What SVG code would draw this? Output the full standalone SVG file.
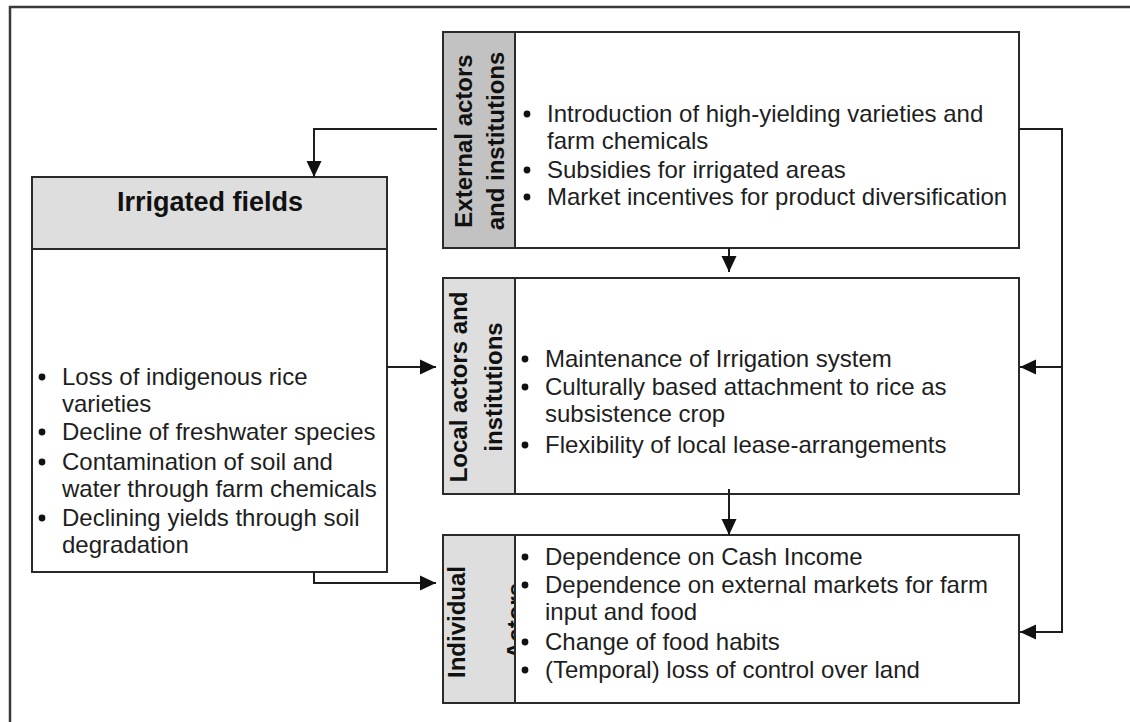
<svg xmlns="http://www.w3.org/2000/svg" width="1130" height="722" viewBox="0 0 1130 722">
<style>
.box{fill:#ffffff;stroke:#2a2a2a;stroke-width:2}
.hd1{fill:#c2c2c2;stroke:#2a2a2a;stroke-width:2}
.hd2{fill:#dedede;stroke:#2a2a2a;stroke-width:2}
.t{font-family:"Liberation Sans",Arial,sans-serif;font-size:24px;fill:#1e1e1e}
.h{font-family:"Liberation Sans",Arial,sans-serif;font-size:24px;font-weight:bold;fill:#111;text-anchor:middle}
.b{fill:#111}
.c{fill:none;stroke:#1e1e1e;stroke-width:2}
</style>
<defs>
<marker id="ah" markerUnits="userSpaceOnUse" markerWidth="17" markerHeight="17" refX="16" refY="8.5" orient="auto">
<path d="M0,1 L16,8.5 L0,16 z" fill="#111"/>
</marker>
</defs>
<rect width="1130" height="722" fill="#ffffff"/>
<path d="M10,722 V7 H1130" fill="none" stroke="#3a3a3a" stroke-width="2.5"/>

<g id="irrigated">
<rect class="box" x="32" y="177" width="355" height="395"/>
<rect class="hd2" x="32" y="177" width="355" height="72"/>
<text x="210" y="211" font-family="Liberation Sans, Arial, sans-serif" font-size="27" font-weight="bold" fill="#111" text-anchor="middle">Irrigated fields</text>
<circle class="b" cx="42" cy="377" r="3.4"/>
<text class="t" x="62" y="385">Loss of indigenous rice</text>
<text class="t" x="62" y="412">varieties</text>
<circle class="b" cx="42" cy="432" r="3.4"/>
<text class="t" x="62" y="440">Decline of freshwater species</text>
<circle class="b" cx="42" cy="462" r="3.4"/>
<text class="t" x="62" y="470">Contamination of soil and</text>
<text class="t" x="62" y="497">water through farm chemicals</text>
<circle class="b" cx="42" cy="518" r="3.4"/>
<text class="t" x="62" y="526">Declining yields through soil</text>
<text class="t" x="62" y="553">degradation</text>
</g>

<g id="external">
<rect class="hd1" x="443" y="32" width="72" height="216"/>
<text class="h" transform="translate(472,141) rotate(-90)">External actors</text>
<text class="h" transform="translate(504,141) rotate(-90)">and institutions</text>
<rect class="box" x="515" y="32" width="504" height="216"/>
<circle class="b" cx="527" cy="114" r="3.4"/>
<text class="t" x="547" y="122">Introduction of high-yielding varieties and</text>
<text class="t" x="547" y="149">farm chemicals</text>
<circle class="b" cx="527" cy="170" r="3.4"/>
<text class="t" x="547" y="178">Subsidies for irrigated areas</text>
<circle class="b" cx="527" cy="197" r="3.4"/>
<text class="t" x="547" y="205">Market incentives for product diversification</text>
</g>

<g id="local">
<rect class="hd2" x="443" y="278" width="72" height="216"/>
<text class="h" transform="translate(467,387) rotate(-90)">Local actors and</text>
<text class="h" transform="translate(502,387) rotate(-90)">institutions</text>
<rect class="box" x="515" y="278" width="504" height="216"/>
<circle class="b" cx="525" cy="359" r="3.4"/>
<text class="t" x="545" y="367">Maintenance of Irrigation system</text>
<circle class="b" cx="525" cy="387" r="3.4"/>
<text class="t" x="545" y="395">Culturally based attachment to rice as</text>
<text class="t" x="545" y="422">subsistence crop</text>
<circle class="b" cx="525" cy="445" r="3.4"/>
<text class="t" x="545" y="453">Flexibility of local lease-arrangements</text>
</g>

<g id="individual">
<rect class="hd2" x="443" y="535" width="72" height="168"/>
<text class="h" transform="translate(465,622) rotate(-90)">Individual</text>
<text class="h" transform="translate(524,621) rotate(-90)">Actors</text>
<rect class="box" x="515" y="535" width="504" height="168"/>
<circle class="b" cx="525" cy="557" r="3.4"/>
<text class="t" x="545" y="565">Dependence on Cash Income</text>
<circle class="b" cx="525" cy="585" r="3.4"/>
<text class="t" x="545" y="593">Dependence on external markets for farm</text>
<text class="t" x="545" y="620">input and food</text>
<circle class="b" cx="525" cy="642" r="3.4"/>
<text class="t" x="545" y="650">Change of food habits</text>
<circle class="b" cx="525" cy="670" r="3.4"/>
<text class="t" x="545" y="678">(Temporal) loss of control over land</text>
</g>

<g id="connectors">
<path class="c" d="M437,129 H314 V177" marker-end="url(#ah)"/>
<path class="c" d="M729,248 V272" marker-end="url(#ah)"/>
<path class="c" d="M729,489 V535" marker-end="url(#ah)"/>
<path class="c" d="M1019,129 H1062 V632 H1020" marker-end="url(#ah)"/>
<path class="c" d="M1062,367 H1020" marker-end="url(#ah)"/>
<path class="c" d="M387,367 H436" marker-end="url(#ah)"/>
<path class="c" d="M314,572 V583 H436" marker-end="url(#ah)"/>
</g>
</svg>
